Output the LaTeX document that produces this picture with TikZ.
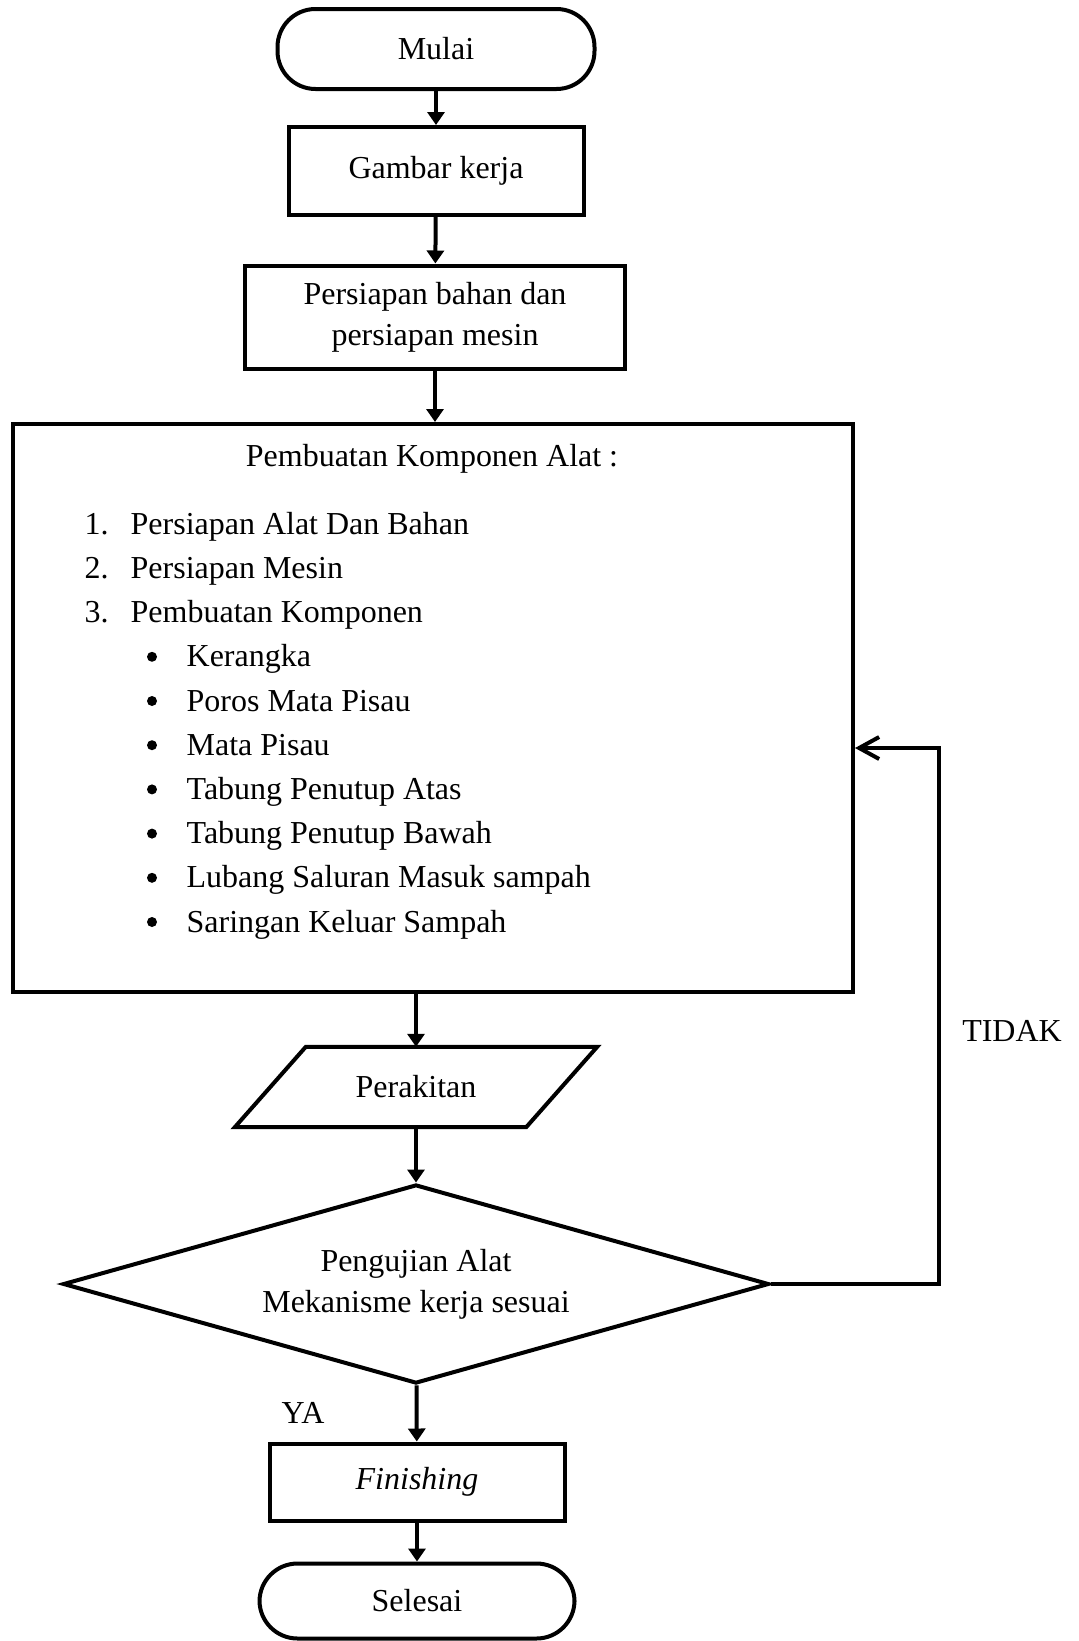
\documentclass[tikz,border=0pt]{standalone}
\usepackage{fontspec}
\setmainfont{Liberation Serif}
\usetikzlibrary{shapes.geometric,arrows.meta}

\begin{document}
\begin{tikzpicture}[x=0.1mm,y=-0.1mm,
    font=\fontsize{9.1}{11.6}\selectfont,
    garis/.style={line width=0.4mm},
    kotak/.style={draw,rectangle,garis,align=center,inner sep=0pt},
    ujung/.style={draw,rectangle,garis,rounded corners=3.8mm,inner sep=0pt},
    panah/.style={garis,-{Triangle[length=1.3mm,width=1.7mm]}},
    balikpanah/.style={garis,-{Straight Barb[length=2mm,width=2.2mm]}},
    isi/.style={anchor=base west,inner sep=0pt},
    titik/.style={circle,fill,inner sep=0pt,minimum size=1mm}]
    \useasboundingbox (0,0) rectangle (1078,1641);

    % Mulai
    \node[ujung,minimum width=31.7mm,minimum height=8mm] (mulai) at (436,49) {Mulai};

    % Gambar kerja
    \node[kotak,minimum width=29.5mm,minimum height=8.8mm] (gambar) at (436,171) {Gambar kerja};

    % Persiapan bahan dan mesin
    \node[kotak,minimum width=38mm,minimum height=10.3mm] (persiapan) at (435,317) {Persiapan bahan dan\\persiapan mesin};

    % Pembuatan komponen alat
    \node[kotak,minimum width=84mm,minimum height=56.8mm] (komponen) at (433,708) {};
    \node (judul) at (432,459) {Pembuatan Komponen Alat :};
    \foreach \no/\teks [count=\i] in {1./Persiapan Alat Dan Bahan,2./Persiapan Mesin,3./Pembuatan Komponen} {
        \node[isi] (no\i) at (84,{490+44.2*\i}) {\no};
        \node[isi] (langkah\i) at (130,{490+44.2*\i}) {\teks};
    }
    \foreach \teks [count=\i from 4] in {Kerangka,Poros Mata Pisau,Mata Pisau,Tabung Penutup Atas,Tabung Penutup Bawah,Lubang Saluran Masuk sampah,Saringan Keluar Sampah} {
        \node[titik] (titik\i) at (152,{480+44.2*\i}) {};
        \node[isi] (langkah\i) at (186,{490+44.2*\i}) {\teks};
    }

    % Perakitan (jajaran genjang)
    \node[minimum width=29mm,minimum height=7.9mm,inner sep=0pt] (perakitan) at (416,1087) {Perakitan};
    \draw[garis] ([xshift=3.55mm]perakitan.north west) -- ([xshift=3.55mm]perakitan.north east)
        -- ([xshift=-3.55mm]perakitan.south east) -- ([xshift=-3.55mm]perakitan.south west) -- cycle;

    % Pengujian alat
    \node[draw,garis,diamond,aspect=3.55,minimum width=70.6mm,minimum height=19.9mm,inner sep=0pt,align=center] (uji) at (416,1284) {Pengujian Alat\\Mekanisme kerja sesuai};

    % Finishing
    \node[kotak,minimum width=29.5mm,minimum height=7.7mm] (finishing) at (417,1482) {\textit{Finishing}};

    % Selesai
    \node[ujung,minimum width=31.5mm,minimum height=7.5mm] (selesai) at (417,1601) {Selesai};

    % label keputusan
    \node (ya) at (303,1413) {YA};
    \node (tidak) at (1012,1031) {TIDAK};

    % alur
    \draw[panah] (mulai) -- (gambar);
    \draw[panah] (gambar) -- (persiapan);
    \draw[panah] (persiapan.south) -- (persiapan.south |- komponen.north);
    \draw[panah] (komponen.south -| perakitan.north) -- (perakitan.north);
    \draw[panah] (perakitan) -- (uji);
    \draw[panah] (uji) -- (finishing);
    \draw[panah] (finishing) -- (selesai);

    % kembali jika tidak sesuai
    \coordinate (balik) at (939,748);
    \draw[balikpanah] (uji.east) -| (balik) -- (komponen.east |- balik);
\end{tikzpicture}
\end{document}
